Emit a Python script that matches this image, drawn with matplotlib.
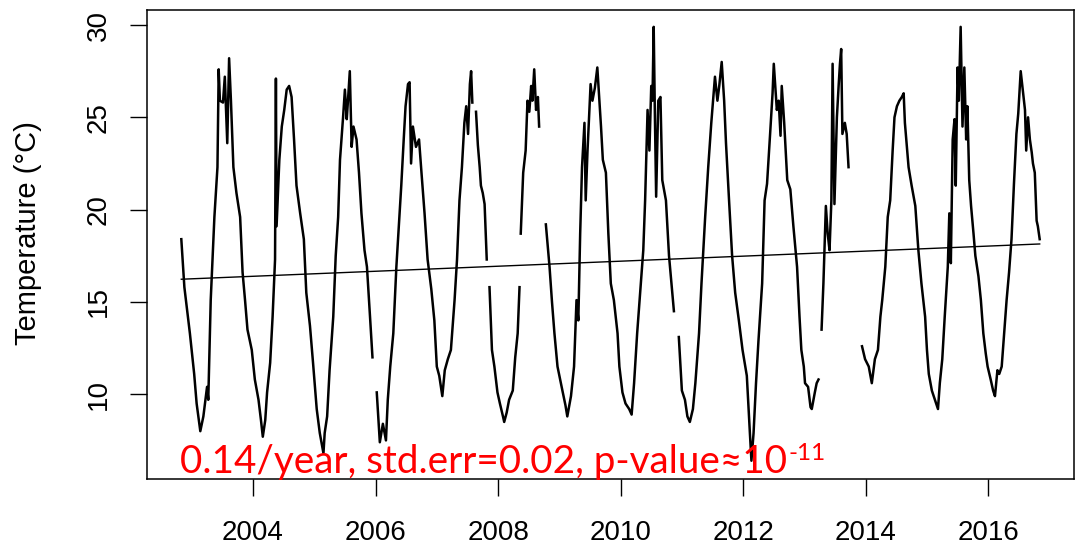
import numpy as np
import matplotlib
matplotlib.use("Agg")
import matplotlib.pyplot as plt

# ==========================================
# Data: (decimal year, temperature in deg C)
# Each segment is a continuous stretch; the breaks are gaps in the record.
# ==========================================
seg1 = [(2002.83, 18.4), (2002.88, 15.8), (2002.97, 13.3), (2003.04, 11.1), (2003.08, 9.5),
        (2003.14, 8.0), (2003.19, 8.8), (2003.25, 10.4), (2003.27, 9.7), (2003.31, 15.1),
        (2003.37, 19.6), (2003.42, 22.3), (2003.44, 27.6), (2003.46, 25.9), (2003.51, 25.8),
        (2003.54, 27.2), (2003.58, 23.6), (2003.61, 28.2), (2003.64, 25.9), (2003.68, 22.3),
        (2003.73, 20.9), (2003.79, 19.6), (2003.83, 16.6), (2003.87, 15.1), (2003.91, 13.5),
        (2003.98, 12.4), (2004.03, 10.8), (2004.09, 9.7), (2004.13, 8.6), (2004.16, 7.7),
        (2004.20, 8.6), (2004.23, 10.1), (2004.28, 11.7), (2004.32, 14.2), (2004.36, 17.3),
        (2004.374, 27.1), (2004.385, 19.1), (2004.43, 22.7), (2004.47, 24.5), (2004.51, 25.4),
        (2004.55, 26.5), (2004.59, 26.7), (2004.63, 26.1), (2004.67, 23.8), (2004.71, 21.3),
        (2004.77, 19.8), (2004.83, 18.4), (2004.87, 15.5), (2004.93, 13.7), (2004.98, 11.7),
        (2005.04, 9.2), (2005.09, 7.9), (2005.15, 6.8), (2005.17, 7.9), (2005.21, 8.8),
        (2005.25, 11.3), (2005.31, 14.2), (2005.35, 17.5), (2005.39, 19.6), (2005.42, 22.7),
        (2005.47, 25.0), (2005.50, 26.5), (2005.53, 24.9), (2005.55, 25.9), (2005.58, 27.5),
        (2005.61, 23.4), (2005.64, 24.5), (2005.69, 23.8), (2005.73, 22.0), (2005.77, 19.8),
        (2005.82, 17.8), (2005.86, 16.9), (2005.91, 14.2), (2005.95, 12.0)]

seg2 = [(2006.02, 10.1), (2006.07, 7.4), (2006.12, 8.4), (2006.17, 7.5), (2006.20, 9.7),
        (2006.24, 11.5), (2006.29, 13.3), (2006.34, 16.9), (2006.38, 19.1), (2006.42, 21.3),
        (2006.46, 23.8), (2006.49, 25.6), (2006.53, 26.8), (2006.556, 26.9), (2006.58, 22.5),
        (2006.61, 24.5), (2006.66, 23.4), (2006.71, 23.8), (2006.75, 22.0), (2006.80, 19.8),
        (2006.85, 17.3), (2006.91, 15.7), (2006.96, 14.0), (2007.00, 11.5), (2007.04, 11.0),
        (2007.09, 9.9), (2007.13, 11.3), (2007.18, 11.9), (2007.23, 12.4), (2007.29, 15.1),
        (2007.33, 17.3), (2007.37, 20.5), (2007.41, 22.3), (2007.45, 24.7), (2007.48, 25.6),
        (2007.51, 24.1), (2007.54, 26.8), (2007.56, 27.5), (2007.58, 25.8)]

seg3 = [(2007.64, 25.3), (2007.67, 23.5), (2007.70, 22.3), (2007.72, 21.3), (2007.75, 20.9),
        (2007.78, 20.3), (2007.815, 17.3)]

seg4 = [(2007.86, 15.8), (2007.90, 12.4), (2007.94, 11.5), (2007.99, 10.1), (2008.03, 9.5),
        (2008.08, 8.8), (2008.10, 8.5), (2008.14, 9.0), (2008.18, 9.7), (2008.24, 10.2),
        (2008.28, 12.0), (2008.32, 13.3), (2008.35, 15.8)]

seg5 = [(2008.37, 18.7), (2008.41, 22.0), (2008.45, 23.2), (2008.48, 25.9), (2008.51, 25.3),
        (2008.54, 26.7), (2008.56, 25.9), (2008.59, 27.6), (2008.62, 25.4), (2008.65, 26.1),
        (2008.67, 24.5)]

seg6 = [(2008.78, 19.2), (2008.84, 16.9), (2008.88, 15.0), (2008.92, 13.3), (2008.97, 11.5),
        (2009.05, 10.2), (2009.10, 9.4), (2009.13, 8.8), (2009.19, 9.9), (2009.24, 11.5),
        (2009.28, 15.1), (2009.31, 14.0), (2009.34, 18.7), (2009.37, 22.3), (2009.41, 24.7),
        (2009.43, 20.5), (2009.46, 23.2), (2009.51, 26.8), (2009.54, 25.9), (2009.58, 26.6),
        (2009.62, 27.7), (2009.65, 26.1), (2009.68, 24.5), (2009.71, 22.7), (2009.76, 22.0),
        (2009.80, 18.7), (2009.84, 16.0), (2009.89, 15.1), (2009.95, 13.3), (2009.98, 11.5),
        (2010.03, 10.1), (2010.08, 9.5), (2010.14, 9.2), (2010.18, 8.9), (2010.22, 10.6),
        (2010.27, 13.3), (2010.33, 16.0), (2010.37, 17.8), (2010.40, 20.5), (2010.44, 25.4),
        (2010.47, 23.2), (2010.50, 26.7), (2010.52, 25.9), (2010.54, 29.9), (2010.56, 25.0),
        (2010.58, 20.7), (2010.615, 25.9), (2010.65, 26.1), (2010.68, 21.6), (2010.74, 20.5),
        (2010.79, 17.5), (2010.83, 16.0), (2010.87, 14.5)]

seg7 = [(2010.95, 13.1), (2011.00, 10.2), (2011.05, 9.7), (2011.09, 8.8), (2011.13, 8.5),
        (2011.18, 9.2), (2011.22, 10.6), (2011.28, 13.3), (2011.32, 16.0), (2011.38, 19.6),
        (2011.43, 22.3), (2011.48, 24.7), (2011.54, 27.2), (2011.58, 25.9), (2011.61, 26.7),
        (2011.65, 28.0), (2011.69, 25.9), (2011.72, 23.6), (2011.77, 20.5), (2011.82, 17.5),
        (2011.87, 15.5), (2011.93, 14.0), (2011.99, 12.4), (2012.06, 11.0), (2012.11, 7.9),
        (2012.135, 6.4), (2012.17, 7.9), (2012.21, 10.6), (2012.25, 12.9), (2012.31, 16.0),
        (2012.35, 20.5), (2012.39, 21.4), (2012.44, 24.1), (2012.48, 26.3), (2012.50, 27.9),
        (2012.55, 25.4), (2012.58, 25.9), (2012.61, 24.0), (2012.63, 26.7), (2012.67, 24.7),
        (2012.72, 21.6), (2012.77, 21.1), (2012.82, 19.1), (2012.88, 16.9), (2012.92, 14.2),
        (2012.95, 12.4), (2012.99, 11.5), (2013.01, 10.6), (2013.06, 10.4), (2013.10, 9.3),
        (2013.12, 9.2), (2013.17, 10.1), (2013.20, 10.6), (2013.23, 10.8)]

seg8 = [(2013.28, 13.5), (2013.31, 16.0), (2013.35, 20.2), (2013.38, 18.7), (2013.41, 17.8),
        (2013.44, 20.5), (2013.46, 27.9), (2013.49, 20.3), (2013.53, 25.0), (2013.56, 26.8),
        (2013.58, 27.9), (2013.60, 28.7), (2013.62, 24.1), (2013.66, 24.7), (2013.69, 24.1),
        (2013.72, 22.3)]

seg9 = [(2013.94, 12.6), (2013.99, 11.9), (2014.05, 11.5), (2014.10, 10.6), (2014.15, 11.9),
        (2014.20, 12.4), (2014.24, 14.2), (2014.27, 15.1), (2014.32, 16.9), (2014.36, 19.6),
        (2014.40, 20.5), (2014.44, 23.2), (2014.47, 25.0), (2014.51, 25.6), (2014.55, 25.9),
        (2014.59, 26.1), (2014.62, 26.3), (2014.64, 24.7), (2014.70, 22.3), (2014.75, 21.3),
        (2014.81, 20.2), (2014.86, 17.8), (2014.91, 16.0), (2014.97, 14.2), (2015.00, 12.4),
        (2015.03, 11.1), (2015.08, 10.2), (2015.13, 9.7), (2015.18, 9.2), (2015.21, 10.6),
        (2015.25, 11.9), (2015.29, 14.2), (2015.34, 16.9), (2015.365, 19.8), (2015.39, 17.1),
        (2015.42, 23.8), (2015.45, 24.9), (2015.47, 21.3), (2015.50, 27.7), (2015.52, 25.9),
        (2015.55, 29.9), (2015.58, 24.5), (2015.61, 27.7), (2015.64, 23.8), (2015.66, 25.6),
        (2015.69, 21.6), (2015.72, 20.2), (2015.76, 18.7), (2015.79, 17.5), (2015.84, 16.4),
        (2015.88, 15.1), (2015.92, 13.3), (2015.96, 12.2), (2015.99, 11.5), (2016.04, 10.8),
        (2016.08, 10.2), (2016.11, 9.9), (2016.15, 11.3), (2016.18, 11.1), (2016.22, 11.5),
        (2016.26, 13.3), (2016.30, 15.1), (2016.34, 16.6), (2016.38, 18.4), (2016.42, 21.4),
        (2016.46, 24.1), (2016.49, 25.2), (2016.53, 27.5), (2016.57, 26.3), (2016.60, 25.4),
        (2016.62, 23.2), (2016.65, 25.0), (2016.68, 23.8), (2016.71, 23.1), (2016.73, 22.5),
        (2016.76, 22.0), (2016.79, 19.4), (2016.81, 19.1), (2016.84, 18.4)]

segments = [seg1, seg2, seg3, seg4, seg5, seg6, seg7, seg8, seg9]

# linear trend, end points
trend_year = [2002.83, 2016.84]
trend_temp = [16.23, 18.14]

x_ticks = [2004, 2006, 2008, 2010, 2012, 2014, 2016]
y_ticks = [10, 15, 20, 25, 30]

note_text = "0.14/year, std.err=0.02, p-value\u224810"
note_exp = "-11"
note_pos = (2002.81, 5.76)

# ==========================================
# Plot
# ==========================================
plt.rcParams['font.family'] = ['Liberation Sans', 'DejaVu Sans']

W, H = 1076, 549
fig = plt.figure(figsize=(W / 100, H / 100), dpi=100)
ax = fig.add_axes([147 / W, (H - 479) / H, (1074 - 147) / W, (479 - 9.5) / H])

for seg in segments:
    yr, tp = np.array(seg).T
    ax.plot(yr, tp, color='black', lw=1.8)

ax.plot(trend_year, trend_temp, color='black', lw=1.0)

ax.set_xlim(2002.27, 2017.40)
ax.set_ylim(5.41, 30.84)
ax.set_xticks(x_ticks)
ax.set_yticks(y_ticks)
ax.set_xticklabels([str(v) for v in x_ticks])
ax.set_yticklabels([str(v) for v in y_ticks], rotation=90, va='center')

for s in ax.spines.values():
    s.set_linewidth(1.1)
ax.tick_params(direction='out', length=12.5, width=1.0, labelsize=20)
ax.tick_params(axis='x', pad=17)
ax.tick_params(axis='y', pad=13)

ax.set_ylabel("Temperature (\u00b0C)", fontsize=21)
ax.yaxis.set_label_coords(-0.113, 0.524)

# red annotation with a superscript exponent
red_font = ['Lato', 'DejaVu Sans']
t = ax.text(note_pos[0], note_pos[1], note_text, color='red', fontsize=27.8,
            family=red_font, ha='left', va='baseline')

fig.canvas.draw()
bb = t.get_window_extent()
base = ax.transData.transform(note_pos)[1]
ax.annotate(note_exp, xy=(bb.x1 + 1, base + 13), xycoords='figure pixels',
            color='red', fontsize=17.5, family=red_font, ha='left', va='baseline',
            annotation_clip=False)

fig.savefig("out.png", dpi=100)
